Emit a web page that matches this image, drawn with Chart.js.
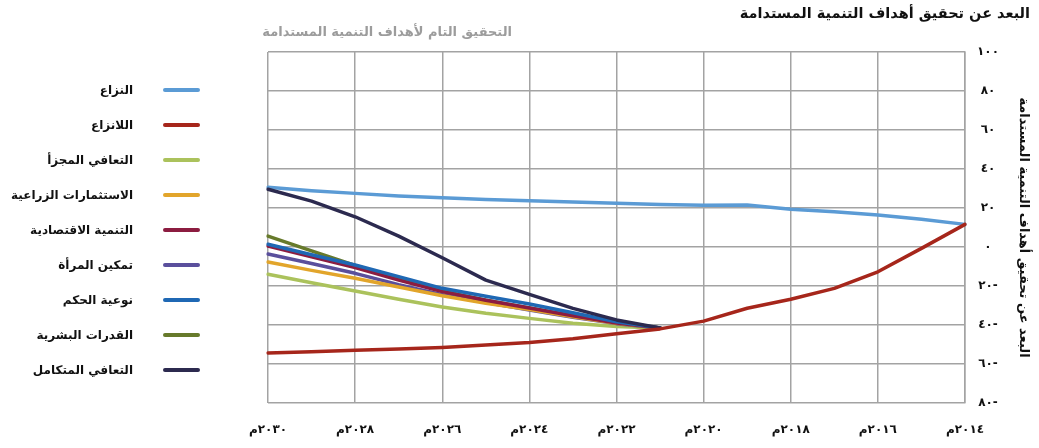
<!DOCTYPE html>
<html lang="ar">
<head>
<meta charset="utf-8">
<script src="https://cdn.jsdelivr.net/npm/chart.js@4.4.1/dist/chart.umd.min.js"></script>
<style>
  html, body { margin: 0; padding: 0; background: #fff; }
  #wrap { position: relative; width: 1039px; height: 448px; }
  #legend { position: absolute; left: 0; top: 0; width: 210px; font-family: 'DejaVu Sans', sans-serif; }
  .item { position: absolute; left: 0; width: 200px; height: 20px; }
  .item span { position: absolute; right: 67px; top: 0; line-height: 20px; font-size: 12px; font-weight: bold; color: #111; white-space: nowrap; direction: rtl; }
  .item i { position: absolute; left: 163px; top: 8px; width: 37px; height: 4px; border-radius: 2px; }
</style>
</head>
<body>
<div id="wrap">
  <canvas id="sdgChart"></canvas>
  <div id="legend"></div>
</div>
<script>
// --- Data ---
const years = [2014, 2015, 2016, 2017, 2018, 2019, 2020, 2021, 2022, 2023, 2024, 2025, 2026, 2027, 2028, 2029, 2030];
const pre = [null, null, null, null, null, null, null]; // scenarios start in 2021

const conflict = [11.6, 14.2, 16.4, 18.1, 19.3, 21.5, 21.4, 21.8, 22.4, 23.1, 23.7, 24.4, 25.3, 26.2, 27.5, 28.9, 30.6];
const noConflict = [11.6, -0.7, -12.7, -21.2, -26.8, -31.4, -38, -42, -44.5, -47, -49, -50.3, -51.5, -52.3, -53, -53.7, -54.3];
const partialRecovery = pre.concat([-41.5, -40.8, -39.1, -36.6, -34, -30.8, -26.8, -22.6, -18.3, -14]);
const agriInvest = pre.concat([-41.5, -39.1, -35.8, -32, -28.8, -25, -20.5, -16, -12, -7.7]);
const econDev = pre.concat([-41.5, -39, -35.3, -31.3, -27.3, -22.9, -17, -10.6, -5, 0.5]);
const womenEmp = pre.concat([-41.5, -39.3, -36, -32.3, -28.5, -24.5, -19.3, -13.5, -8.5, -3.6]);
const governance = pre.concat([-41.5, -38.3, -33.7, -29.2, -25.3, -21.2, -15.2, -9.2, -4, 1.4]);
const humanCap = pre.concat([-41.5, -39, -35.3, -31.3, -27.3, -22.5, -16.3, -9.5, -2, 5.6]);
const integrated = pre.concat([-41.5, -37.4, -31.5, -24.3, -17, -5.5, 5.6, 15.5, 23.5, 29.6]);

const seriesNames = ['النزاع', 'اللانزاع', 'التعافي المجزأ', 'الاستثمارات الزراعية', 'التنمية الاقتصادية', 'تمكين المرأة', 'نوعية الحكم', 'القدرات البشرية', 'التعافي المتكامل'];
const seriesData = [conflict, noConflict, partialRecovery, agriInvest, econDev, womenEmp, governance, humanCap, integrated];
const seriesColors = ['#5b9bd5', '#a6261b', '#abc25c', '#e2a52b', '#8c1c40', '#5a4f9c', '#1f68b4', '#677a2b', '#2c2a4f'];
const drawOrder = [8, -1, 6, 3, 2, 4, 1, 5, 0]; // lower = on top

const yTicks = [-80, -60, -40, -20, 0, 20, 40, 60, 80, 100];

// --- Helpers ---
const arDigits = '٠١٢٣٤٥٦٧٨٩';
const toArabic = (n) => {
  const s = String(Math.abs(n)).replace(/\d/g, d => arDigits[d]);
  return n < 0 ? s + '-' : s;
};

// --- Legend (HTML) ---
const legendEl = document.getElementById('legend');
seriesNames.forEach((name, i) => {
  const div = document.createElement('div');
  div.className = 'item';
  div.style.top = (80 + i * 35) + 'px';
  div.innerHTML = '<span>' + name + '</span><i style="background:' + seriesColors[i] + '"></i>';
  legendEl.appendChild(div);
});

// --- Header texts drawn on the canvas ---
const headerText = {
  id: 'headerText',
  afterDraw(chart) {
    const ctx = chart.ctx;
    ctx.save();
    ctx.textBaseline = 'middle';
    ctx.textAlign = 'right';
    ctx.font = 'bold 14.5px "DejaVu Sans"';
    ctx.fillStyle = '#111';
    ctx.fillText('البعد عن تحقيق أهداف التنمية المستدامة', 1030, 14);
    ctx.font = 'bold 13px "DejaVu Sans"';
    ctx.fillStyle = '#9c9c9c';
    ctx.fillText('التحقيق التام لأهداف التنمية المستدامة', 512, 33);
    ctx.restore();
  }
};

const ctx = document.getElementById('sdgChart').getContext('2d');
new Chart(ctx, {
  type: 'line',
  data: {
    labels: years,
    datasets: seriesNames.map((name, i) => ({
      label: name,
      data: seriesData[i],
      borderColor: seriesColors[i],
      backgroundColor: seriesColors[i],
      borderWidth: 3.5,
      pointRadius: 0,
      tension: 0,
      order: drawOrder[i],
      borderCapStyle: 'round',
      borderJoinStyle: 'round'
    }))
  },
  options: {
    responsive: true, maintainAspectRatio: false, animation: false,
    layout: { padding: { left: 268, top: 52, right: 0, bottom: 0 } },
    plugins: { legend: { display: false }, tooltip: { enabled: false } },
    scales: {
      x: {
        reverse: true,
        grid: { color: '#a3a3a3', lineWidth: 1.5, drawTicks: false },
        border: { display: false },
        afterFit: (scale) => { scale.height = 45; },
        ticks: {
          autoSkip: false, maxRotation: 0, padding: 20, color: '#111',
          font: { family: 'DejaVu Sans', size: 12, weight: 'bold' },
          callback: (val, idx) => years[idx] % 2 === 0 ? toArabic(years[idx]) + 'م' : null
        }
      },
      y: {
        position: 'right', min: -80, max: 100,
        afterBuildTicks: (scale) => { scale.ticks = yTicks.map(v => ({ value: v })); },
        afterFit: (scale) => { scale.width = 74; },
        grid: { color: '#a3a3a3', lineWidth: 1.5, drawTicks: false },
        border: { color: '#a3a3a3', width: 1.5 },
        ticks: {
          padding: 12, crossAlign: 'center', color: '#111',
          font: { family: 'DejaVu Sans', size: 12, weight: 'bold' },
          callback: (v) => toArabic(v)
        },
        title: {
          display: true, text: 'البعد عن تحقيق أهداف التنمية المستدامة', color: '#111',
          font: { family: 'DejaVu Sans', size: 13, weight: 'bold' },
          padding: { top: 8, bottom: 0 }
        }
      }
    }
  },
  plugins: [headerText]
});
</script>
</body>
</html>
